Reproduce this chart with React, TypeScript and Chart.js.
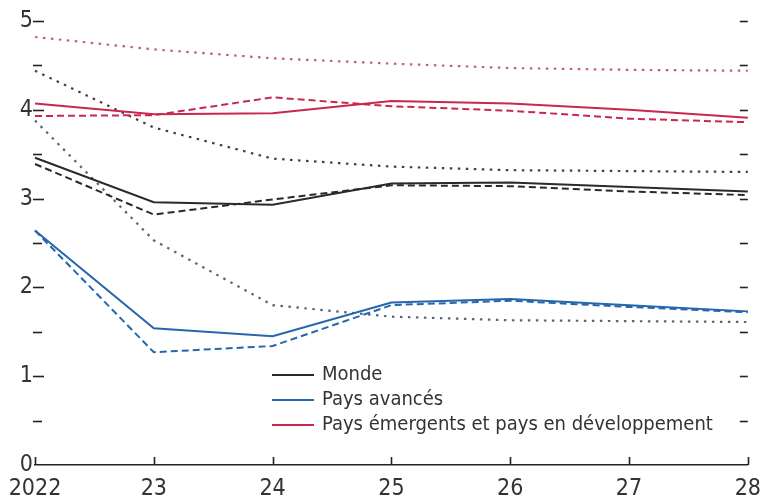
import { useEffect, useRef } from "react";
import { Chart, registerables } from "chart.js";

Chart.register(...registerables);

const years = ["2022", "23", "24", "25", "26", "27", "28"];
const yMin = 0;
const yMax = 5;
const yStep = 0.5;

const mondeSolid = [3.46, 2.96, 2.93, 3.17, 3.18, 3.13, 3.08];
const mondeDashed = [3.39, 2.82, 2.99, 3.15, 3.14, 3.08, 3.04];
const mondeDotted = [4.44, 3.8, 3.45, 3.36, 3.32, 3.31, 3.3];

const avSolid = [2.64, 1.54, 1.45, 1.83, 1.87, 1.8, 1.73];
const avDashed = [2.64, 1.27, 1.34, 1.8, 1.85, 1.78, 1.72];
const avDotted = [3.88, 2.53, 1.8, 1.67, 1.63, 1.62, 1.61];

const emSolid = [4.07, 3.95, 3.96, 4.1, 4.07, 4.0, 3.91];
const emDashed = [3.93, 3.94, 4.14, 4.04, 3.99, 3.9, 3.86];
const emDotted = [4.82, 4.68, 4.58, 4.52, 4.47, 4.45, 4.44];

const legendLabels = ["Monde", "Pays avancés", "Pays émergents et pays en développement"];

const BLACK = "#2a2a2a";
const BLUE = "#2566ad";
const RED = "#c8284f";
const DOT_BLACK = "#404040";
const DOT_BLUE = "#55657c";
const DOT_RED = "#c0607a";

const FONT = "'Liberation Sans Narrow', 'DejaVu Sans Condensed', 'Liberation Sans', sans-serif";

const DASH = [7, 4];
const DOT = [2.5, 5.5];

export default function App() {
  const ref = useRef<HTMLCanvasElement | null>(null);

  useEffect(() => {
    document.body.style.margin = "0";
    const canvas = ref.current;
    if (!canvas) return;

    const mk = (label: string, data: number[], color: string, dash: number[], legend: boolean, width = 2) => ({
      label,
      data,
      borderColor: color,
      backgroundColor: color,
      borderWidth: width,
      borderDash: dash,
      pointRadius: 0,
      tension: 0,
      fill: false,
      inLegend: legend,
    });

    const datasets: any[] = [
      mk(legendLabels[0], mondeSolid, BLACK, [], true),
      mk(legendLabels[1], avSolid, BLUE, [], true),
      mk(legendLabels[2], emSolid, RED, [], true),
      mk(legendLabels[0] + " (tirets)", mondeDashed, BLACK, DASH, false),
      mk(legendLabels[1] + " (tirets)", avDashed, BLUE, DASH, false),
      mk(legendLabels[2] + " (tirets)", emDashed, RED, DASH, false),
      mk(legendLabels[0] + " (pointillés)", mondeDotted, DOT_BLACK, DOT, false, 2.2),
      mk(legendLabels[1] + " (pointillés)", avDotted, DOT_BLUE, DOT, false, 2.2),
      mk(legendLabels[2] + " (pointillés)", emDotted, DOT_RED, DOT, false, 2.2),
    ];

    const decor = {
      id: "decor",
      afterDraw(chart: any) {
        const ctx = chart.ctx;
        const { left, right, bottom } = chart.chartArea;
        const ys = chart.scales.y;
        const xs = chart.scales.x;
        ctx.save();
        ctx.strokeStyle = "#222";
        ctx.lineWidth = 1.6;
        for (let v = yMin + yStep; v <= yMax + 1e-9; v += yStep) {
          const py = Math.round(ys.getPixelForValue(v)) + 0.5;
          const major = Math.abs(v - Math.round(v)) < 1e-9;
          ctx.beginPath();
          ctx.moveTo(left - 2, py);
          ctx.lineTo(left + (major ? 9 : 7), py);
          ctx.stroke();
          ctx.beginPath();
          ctx.moveTo(right - 8, py);
          ctx.lineTo(right, py);
          ctx.stroke();
        }
        for (let i = 0; i < years.length; i++) {
          const px = Math.round(xs.getPixelForValue(i)) + 0.5;
          ctx.beginPath();
          ctx.moveTo(px, bottom - 8);
          ctx.lineTo(px, bottom);
          ctx.stroke();
        }
        const items = chart.data.datasets.filter((d: any) => d.inLegend);
        const lx0 = 272;
        const lx1 = 314;
        const tx = 322;
        const y0 = 375;
        const dy = 25;
        ctx.font = `20px ${FONT}`;
        ctx.textBaseline = "middle";
        ctx.textAlign = "left";
        items.forEach((d: any, i: number) => {
          const py = y0 + i * dy;
          ctx.strokeStyle = d.borderColor;
          ctx.lineWidth = 2;
          ctx.setLineDash([]);
          ctx.beginPath();
          ctx.moveTo(lx0, py);
          ctx.lineTo(lx1, py);
          ctx.stroke();
          ctx.fillStyle = "#333";
          ctx.fillText(d.label, tx, py);
        });
        ctx.restore();
      },
    };

    const chart = new Chart(canvas, {
      type: "line",
      data: { labels: years, datasets },
      options: {
        animation: false,
        responsive: true,
        maintainAspectRatio: false,
        layout: { padding: { top: 21, right: 11, left: 0, bottom: 0 } },
        plugins: {
          legend: { display: false },
          tooltip: { enabled: false },
        },
        scales: {
          x: {
            type: "category",
            offset: false,
            grid: { display: false },
            border: { display: true, color: "#222", width: 1.6 },
            ticks: {
              color: "#333",
              font: { family: FONT, size: 23 },
              padding: 2,
              maxRotation: 0,
              autoSkip: false,
            },
            afterFit: (s: any) => {
              s.height = 30;
            },
          },
          y: {
            min: yMin,
            max: yMax,
            grid: { display: false },
            border: { display: false },
            ticks: {
              stepSize: yStep,
              autoSkip: false,
              color: "#333",
              font: { family: FONT, size: 23 },
              padding: -6,
              callback: (v: any) => (Math.abs(v - Math.round(v)) < 1e-9 ? String(Math.round(v)) : ""),
            },
            afterFit: (s: any) => {
              s.width = 35;
            },
          },
        },
      },
      plugins: [decor],
    });

    return () => chart.destroy();
  }, []);

  return (
    <div style={{ position: "relative", width: 763, height: 495, background: "#fff" }}>
      <canvas ref={ref} />
    </div>
  );
}
